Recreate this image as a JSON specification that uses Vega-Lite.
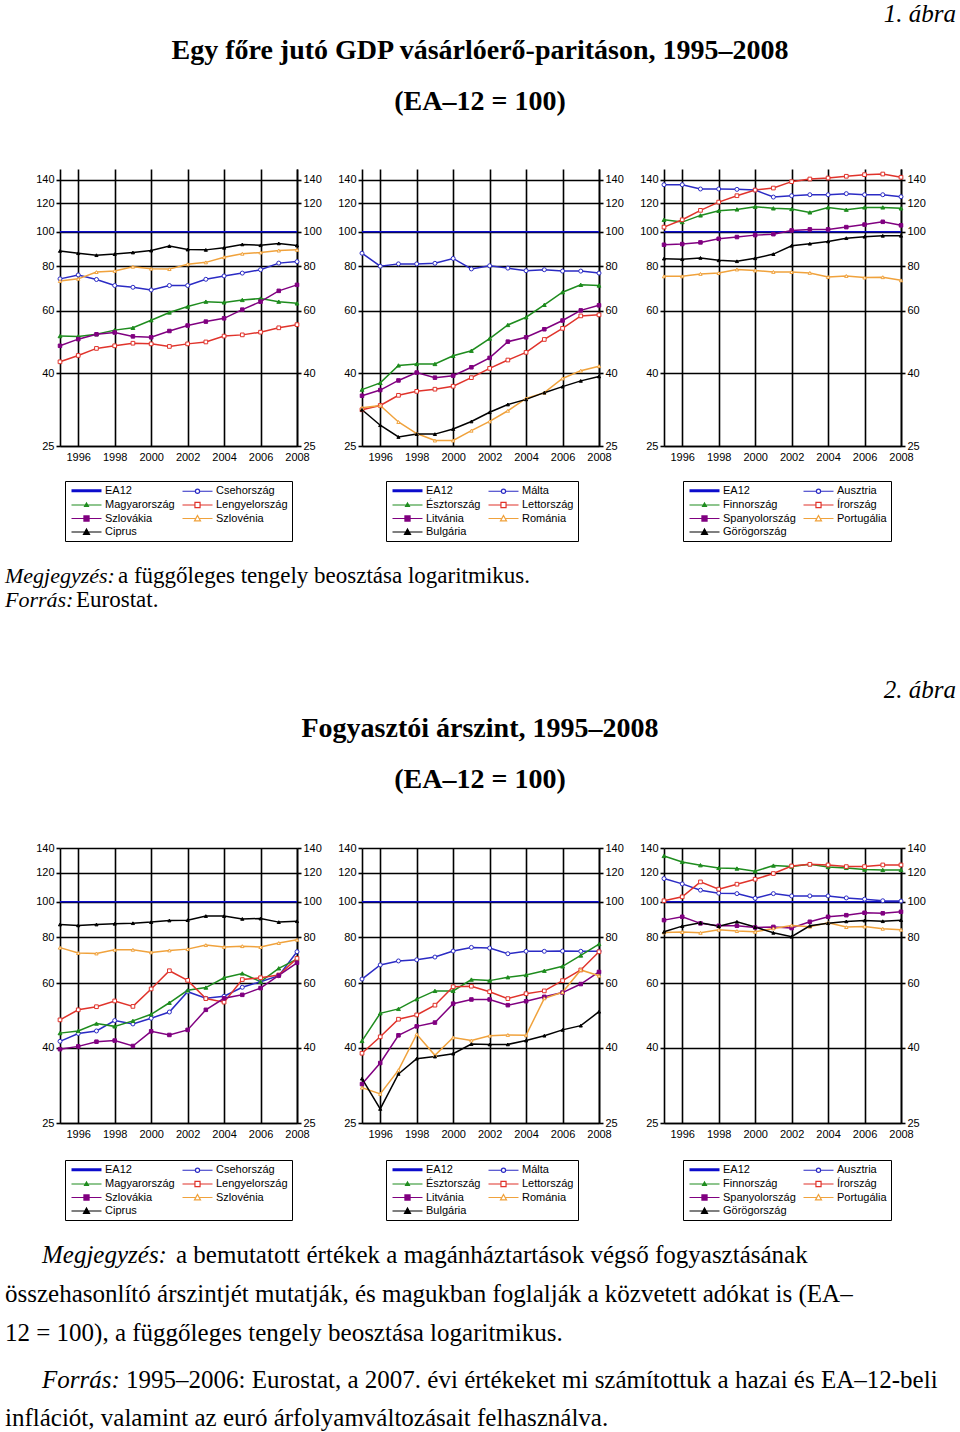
{
"$schema": "https://vega.github.io/schema/vega-lite/v6.json",
"background": "white",
"padding": {"left": 5, "top": 0, "right": 0, "bottom": 0},
"autosize": {"type": "pad"},
"config": {
  "view": {"stroke": null},
  "font": "Liberation Sans",
  "axis": {"labelFont": "Liberation Sans", "labelFontSize": 11, "labelColor": "black", "labelOverlap": false, "labelFlush": false, "domainColor": "black", "domainWidth": 1.6, "tickColor": "black", "tickWidth": 1.6, "gridColor": "black", "gridOpacity": 1, "gridWidth": 1.6},
  "legend": {"orient": "none", "direction": "horizontal", "columns": 2, "padding": 4, "strokeColor": "black", "symbolSize": 900, "labelFont": "Liberation Sans", "labelFontSize": 11, "labelColor": "black", "labelOffset": 3, "columnPadding": 5, "rowPadding": 1.5}
},
"resolve": {"scale": {"color": "independent", "stroke": "independent", "fill": "independent", "shape": "independent", "size": "independent"}, "legend": {"color": "independent"}},
"datasets": {
"gdp": [
{"country":"EA12","year":1995,"value":100},{"country":"EA12","year":1996,"value":100},{"country":"EA12","year":1997,"value":100},{"country":"EA12","year":1998,"value":100},{"country":"EA12","year":1999,"value":100},{"country":"EA12","year":2000,"value":100},{"country":"EA12","year":2001,"value":100},{"country":"EA12","year":2002,"value":100},{"country":"EA12","year":2003,"value":100},{"country":"EA12","year":2004,"value":100},{"country":"EA12","year":2005,"value":100},{"country":"EA12","year":2006,"value":100},{"country":"EA12","year":2007,"value":100},{"country":"EA12","year":2008,"value":100},
{"country":"Csehország","year":1995,"value":73.7},{"country":"Csehország","year":1996,"value":75.6},{"country":"Csehország","year":1997,"value":73.4},{"country":"Csehország","year":1998,"value":70.6},{"country":"Csehország","year":1999,"value":69.8},{"country":"Csehország","year":2000,"value":68.6},{"country":"Csehország","year":2001,"value":70.6},{"country":"Csehország","year":2002,"value":70.6},{"country":"Csehország","year":2003,"value":73.5},{"country":"Csehország","year":2004,"value":75.1},{"country":"Csehország","year":2005,"value":76.5},{"country":"Csehország","year":2006,"value":78.2},{"country":"Csehország","year":2007,"value":81.6},{"country":"Csehország","year":2008,"value":82.4},
{"country":"Magyarország","year":1995,"value":50.9},{"country":"Magyarország","year":1996,"value":50.8},{"country":"Magyarország","year":1997,"value":51.5},{"country":"Magyarország","year":1998,"value":52.9},{"country":"Magyarország","year":1999,"value":53.7},{"country":"Magyarország","year":2000,"value":56.4},{"country":"Magyarország","year":2001,"value":59.3},{"country":"Magyarország","year":2002,"value":61.6},{"country":"Magyarország","year":2003,"value":63.6},{"country":"Magyarország","year":2004,"value":63.3},{"country":"Magyarország","year":2005,"value":64.3},{"country":"Magyarország","year":2006,"value":64.9},{"country":"Magyarország","year":2007,"value":63.6},{"country":"Magyarország","year":2008,"value":62.9},
{"country":"Lengyelország","year":1995,"value":43.1},{"country":"Lengyelország","year":1996,"value":44.9},{"country":"Lengyelország","year":1997,"value":47.0},{"country":"Lengyelország","year":1998,"value":47.8},{"country":"Lengyelország","year":1999,"value":48.6},{"country":"Lengyelország","year":2000,"value":48.4},{"country":"Lengyelország","year":2001,"value":47.6},{"country":"Lengyelország","year":2002,"value":48.4},{"country":"Lengyelország","year":2003,"value":49.0},{"country":"Lengyelország","year":2004,"value":50.9},{"country":"Lengyelország","year":2005,"value":51.3},{"country":"Lengyelország","year":2006,"value":52.2},{"country":"Lengyelország","year":2007,"value":53.7},{"country":"Lengyelország","year":2008,"value":54.8},
{"country":"Szlovákia","year":1995,"value":47.8},{"country":"Szlovákia","year":1996,"value":49.9},{"country":"Szlovákia","year":1997,"value":51.5},{"country":"Szlovákia","year":1998,"value":52.1},{"country":"Szlovákia","year":1999,"value":50.8},{"country":"Szlovákia","year":2000,"value":50.5},{"country":"Szlovákia","year":2001,"value":52.6},{"country":"Szlovákia","year":2002,"value":54.5},{"country":"Szlovákia","year":2003,"value":55.9},{"country":"Szlovákia","year":2004,"value":57.1},{"country":"Szlovákia","year":2005,"value":60.4},{"country":"Szlovákia","year":2006,"value":63.6},{"country":"Szlovákia","year":2007,"value":68.2},{"country":"Szlovákia","year":2008,"value":70.9},
{"country":"Szlovénia","year":1995,"value":72.7},{"country":"Szlovénia","year":1996,"value":73.7},{"country":"Szlovénia","year":1997,"value":77.0},{"country":"Szlovénia","year":1998,"value":77.6},{"country":"Szlovénia","year":1999,"value":79.7},{"country":"Szlovénia","year":2000,"value":78.7},{"country":"Szlovénia","year":2001,"value":78.5},{"country":"Szlovénia","year":2002,"value":81.0},{"country":"Szlovénia","year":2003,"value":82.0},{"country":"Szlovénia","year":2004,"value":84.8},{"country":"Szlovénia","year":2005,"value":86.7},{"country":"Szlovénia","year":2006,"value":87.4},{"country":"Szlovénia","year":2007,"value":88.5},{"country":"Szlovénia","year":2008,"value":88.9},
{"country":"Ciprus","year":1995,"value":88.3},{"country":"Ciprus","year":1996,"value":87.0},{"country":"Ciprus","year":1997,"value":85.9},{"country":"Ciprus","year":1998,"value":86.5},{"country":"Ciprus","year":1999,"value":87.4},{"country":"Ciprus","year":2000,"value":88.5},{"country":"Ciprus","year":2001,"value":91.1},{"country":"Ciprus","year":2002,"value":89.1},{"country":"Ciprus","year":2003,"value":88.9},{"country":"Ciprus","year":2004,"value":90.1},{"country":"Ciprus","year":2005,"value":92.1},{"country":"Ciprus","year":2006,"value":91.6},{"country":"Ciprus","year":2007,"value":92.7},{"country":"Ciprus","year":2008,"value":91.5},
{"country":"Málta","year":1995,"value":87.0},{"country":"Málta","year":1996,"value":80.0},{"country":"Málta","year":1997,"value":81.2},{"country":"Málta","year":1998,"value":81.2},{"country":"Málta","year":1999,"value":81.5},{"country":"Málta","year":2000,"value":84.1},{"country":"Málta","year":2001,"value":78.6},{"country":"Málta","year":2002,"value":80.2},{"country":"Málta","year":2003,"value":79.0},{"country":"Málta","year":2004,"value":77.7},{"country":"Málta","year":2005,"value":78.2},{"country":"Málta","year":2006,"value":77.5},{"country":"Málta","year":2007,"value":77.5},{"country":"Málta","year":2008,"value":76.5},
{"country":"Észtország","year":1995,"value":36.0},{"country":"Észtország","year":1996,"value":37.6},{"country":"Észtország","year":1997,"value":42.1},{"country":"Észtország","year":1998,"value":42.5},{"country":"Észtország","year":1999,"value":42.5},{"country":"Észtország","year":2000,"value":44.8},{"country":"Észtország","year":2001,"value":46.3},{"country":"Észtország","year":2002,"value":50.1},{"country":"Észtország","year":2003,"value":54.7},{"country":"Észtország","year":2004,"value":57.5},{"country":"Észtország","year":2005,"value":62.3},{"country":"Észtország","year":2006,"value":67.6},{"country":"Észtország","year":2007,"value":70.9},{"country":"Észtország","year":2008,"value":70.6},
{"country":"Lettország","year":1995,"value":31.6},{"country":"Lettország","year":1996,"value":32.5},{"country":"Lettország","year":1997,"value":34.7},{"country":"Lettország","year":1998,"value":35.6},{"country":"Lettország","year":1999,"value":36.1},{"country":"Lettország","year":2000,"value":36.8},{"country":"Lettország","year":2001,"value":38.9},{"country":"Lettország","year":2002,"value":41.3},{"country":"Lettország","year":2003,"value":43.6},{"country":"Lettország","year":2004,"value":45.8},{"country":"Lettország","year":2005,"value":49.8},{"country":"Lettország","year":2006,"value":53.5},{"country":"Lettország","year":2007,"value":58.0},{"country":"Lettország","year":2008,"value":58.4},
{"country":"Litvánia","year":1995,"value":34.6},{"country":"Litvánia","year":1996,"value":35.9},{"country":"Litvánia","year":1997,"value":38.2},{"country":"Litvánia","year":1998,"value":40.2},{"country":"Litvánia","year":1999,"value":38.9},{"country":"Litvánia","year":2000,"value":39.4},{"country":"Litvánia","year":2001,"value":41.6},{"country":"Litvánia","year":2002,"value":44.2},{"country":"Litvánia","year":2003,"value":49.1},{"country":"Litvánia","year":2004,"value":50.5},{"country":"Litvánia","year":2005,"value":53.2},{"country":"Litvánia","year":2006,"value":56.3},{"country":"Litvánia","year":2007,"value":60.1},{"country":"Litvánia","year":2008,"value":62.1},
{"country":"Románia","year":1995,"value":32.0},{"country":"Románia","year":1996,"value":32.5},{"country":"Románia","year":1997,"value":29.2},{"country":"Románia","year":1998,"value":27.1},{"country":"Románia","year":1999,"value":25.9},{"country":"Románia","year":2000,"value":25.9},{"country":"Románia","year":2001,"value":27.6},{"country":"Románia","year":2002,"value":29.3},{"country":"Románia","year":2003,"value":31.4},{"country":"Románia","year":2004,"value":34.0},{"country":"Románia","year":2005,"value":35.3},{"country":"Románia","year":2006,"value":38.7},{"country":"Románia","year":2007,"value":40.7},{"country":"Románia","year":2008,"value":41.9},
{"country":"Bulgária","year":1995,"value":31.6},{"country":"Bulgária","year":1996,"value":28.6},{"country":"Bulgária","year":1997,"value":26.5},{"country":"Bulgária","year":1998,"value":27.0},{"country":"Bulgária","year":1999,"value":27.0},{"country":"Bulgária","year":2000,"value":27.9},{"country":"Bulgária","year":2001,"value":29.3},{"country":"Bulgária","year":2002,"value":31.1},{"country":"Bulgária","year":2003,"value":32.7},{"country":"Bulgária","year":2004,"value":33.8},{"country":"Bulgária","year":2005,"value":35.3},{"country":"Bulgária","year":2006,"value":36.7},{"country":"Bulgária","year":2007,"value":38.1},{"country":"Bulgária","year":2008,"value":39.2},
{"country":"Ausztria","year":1995,"value":135.5},{"country":"Ausztria","year":1996,"value":135.5},{"country":"Ausztria","year":1997,"value":131.8},{"country":"Ausztria","year":1998,"value":131.8},{"country":"Ausztria","year":1999,"value":131.5},{"country":"Ausztria","year":2000,"value":130.9},{"country":"Ausztria","year":2001,"value":125.1},{"country":"Ausztria","year":2002,"value":126.2},{"country":"Ausztria","year":2003,"value":127.0},{"country":"Ausztria","year":2004,"value":127.0},{"country":"Ausztria","year":2005,"value":127.9},{"country":"Ausztria","year":2006,"value":127.0},{"country":"Ausztria","year":2007,"value":127.0},{"country":"Ausztria","year":2008,"value":125.4},
{"country":"Finnország","year":1995,"value":108.0},{"country":"Finnország","year":1996,"value":106.4},{"country":"Finnország","year":1997,"value":111.1},{"country":"Finnország","year":1998,"value":114.5},{"country":"Finnország","year":1999,"value":115.5},{"country":"Finnország","year":2000,"value":117.5},{"country":"Finnország","year":2001,"value":116.3},{"country":"Finnország","year":2002,"value":115.8},{"country":"Finnország","year":2003,"value":113.3},{"country":"Finnország","year":2004,"value":117.0},{"country":"Finnország","year":2005,"value":115.3},{"country":"Finnország","year":2006,"value":117.0},{"country":"Finnország","year":2007,"value":117.0},{"country":"Finnország","year":2008,"value":116.3},
{"country":"Írország","year":1995,"value":103.0},{"country":"Írország","year":1996,"value":108.0},{"country":"Írország","year":1997,"value":114.8},{"country":"Írország","year":1998,"value":121.1},{"country":"Írország","year":1999,"value":126.2},{"country":"Írország","year":2000,"value":130.9},{"country":"Írország","year":2001,"value":132.6},{"country":"Írország","year":2002,"value":138.2},{"country":"Írország","year":2003,"value":140.6},{"country":"Írország","year":2004,"value":141.5},{"country":"Írország","year":2005,"value":143.1},{"country":"Írország","year":2006,"value":144.6},{"country":"Írország","year":2007,"value":145.2},{"country":"Írország","year":2008,"value":142.2},
{"country":"Spanyolország","year":1995,"value":91.9},{"country":"Spanyolország","year":1996,"value":92.3},{"country":"Spanyolország","year":1997,"value":93.3},{"country":"Spanyolország","year":1998,"value":95.5},{"country":"Spanyolország","year":1999,"value":96.6},{"country":"Spanyolország","year":2000,"value":97.8},{"country":"Spanyolország","year":2001,"value":98.4},{"country":"Spanyolország","year":2002,"value":100.8},{"country":"Spanyolország","year":2003,"value":101.5},{"country":"Spanyolország","year":2004,"value":101.5},{"country":"Spanyolország","year":2005,"value":103.0},{"country":"Spanyolország","year":2006,"value":104.7},{"country":"Spanyolország","year":2007,"value":106.6},{"country":"Spanyolország","year":2008,"value":104.2},
{"country":"Portugália","year":1995,"value":74.9},{"country":"Portugália","year":1996,"value":74.9},{"country":"Portugália","year":1997,"value":76.1},{"country":"Portugália","year":1998,"value":76.5},{"country":"Portugália","year":1999,"value":78.3},{"country":"Portugália","year":2000,"value":77.8},{"country":"Portugália","year":2001,"value":77.1},{"country":"Portugália","year":2002,"value":77.0},{"country":"Portugália","year":2003,"value":76.6},{"country":"Portugália","year":2004,"value":74.6},{"country":"Portugália","year":2005,"value":75.1},{"country":"Portugália","year":2006,"value":74.3},{"country":"Portugália","year":2007,"value":74.5},{"country":"Portugália","year":2008,"value":73.0},
{"country":"Görögország","year":1995,"value":84.0},{"country":"Görögország","year":1996,"value":83.7},{"country":"Görögország","year":1997,"value":84.4},{"country":"Görögország","year":1998,"value":83.1},{"country":"Görögország","year":1999,"value":82.6},{"country":"Görögország","year":2000,"value":84.2},{"country":"Görögország","year":2001,"value":86.5},{"country":"Görögország","year":2002,"value":91.3},{"country":"Görögország","year":2003,"value":92.5},{"country":"Görögország","year":2004,"value":93.9},{"country":"Görögország","year":2005,"value":95.9},{"country":"Görögország","year":2006,"value":96.8},{"country":"Görögország","year":2007,"value":97.4},{"country":"Görögország","year":2008,"value":97.4}
],
"cpi": [
{"country":"EA12","year":1995,"value":100},{"country":"EA12","year":1996,"value":100},{"country":"EA12","year":1997,"value":100},{"country":"EA12","year":1998,"value":100},{"country":"EA12","year":1999,"value":100},{"country":"EA12","year":2000,"value":100},{"country":"EA12","year":2001,"value":100},{"country":"EA12","year":2002,"value":100},{"country":"EA12","year":2003,"value":100},{"country":"EA12","year":2004,"value":100},{"country":"EA12","year":2005,"value":100},{"country":"EA12","year":2006,"value":100},{"country":"EA12","year":2007,"value":100},{"country":"EA12","year":2008,"value":100},
{"country":"Csehország","year":1995,"value":41.7},{"country":"Csehország","year":1996,"value":43.8},{"country":"Csehország","year":1997,"value":44.5},{"country":"Csehország","year":1998,"value":47.5},{"country":"Csehország","year":1999,"value":46.5},{"country":"Csehország","year":2000,"value":48.2},{"country":"Csehország","year":2001,"value":50.1},{"country":"Csehország","year":2002,"value":56.9},{"country":"Csehország","year":2003,"value":54.6},{"country":"Csehország","year":2004,"value":55.3},{"country":"Csehország","year":2005,"value":58.5},{"country":"Csehország","year":2006,"value":60.6},{"country":"Csehország","year":2007,"value":62.9},{"country":"Csehország","year":2008,"value":73.1},
{"country":"Magyarország","year":1995,"value":43.9},{"country":"Magyarország","year":1996,"value":44.5},{"country":"Magyarország","year":1997,"value":46.6},{"country":"Magyarország","year":1998,"value":45.8},{"country":"Magyarország","year":1999,"value":47.4},{"country":"Magyarország","year":2000,"value":49.4},{"country":"Magyarország","year":2001,"value":53.1},{"country":"Magyarország","year":2002,"value":57.4},{"country":"Magyarország","year":2003,"value":58.4},{"country":"Magyarország","year":2004,"value":62.1},{"country":"Magyarország","year":2005,"value":63.8},{"country":"Magyarország","year":2006,"value":60.6},{"country":"Magyarország","year":2007,"value":65.9},{"country":"Magyarország","year":2008,"value":69.8},
{"country":"Lengyelország","year":1995,"value":47.7},{"country":"Lengyelország","year":1996,"value":50.8},{"country":"Lengyelország","year":1997,"value":51.8},{"country":"Lengyelország","year":1998,"value":53.7},{"country":"Lengyelország","year":1999,"value":51.9},{"country":"Lengyelország","year":2000,"value":57.9},{"country":"Lengyelország","year":2001,"value":64.9},{"country":"Lengyelország","year":2002,"value":61.1},{"country":"Lengyelország","year":2003,"value":54.5},{"country":"Lengyelország","year":2004,"value":53.3},{"country":"Lengyelország","year":2005,"value":61.4},{"country":"Lengyelország","year":2006,"value":62.1},{"country":"Lengyelország","year":2007,"value":63.2},{"country":"Lengyelország","year":2008,"value":70.1},
{"country":"Szlovákia","year":1995,"value":39.7},{"country":"Szlovákia","year":1996,"value":40.4},{"country":"Szlovákia","year":1997,"value":41.6},{"country":"Szlovákia","year":1998,"value":41.9},{"country":"Szlovákia","year":1999,"value":40.5},{"country":"Szlovákia","year":2000,"value":44.4},{"country":"Szlovákia","year":2001,"value":43.4},{"country":"Szlovákia","year":2002,"value":44.8},{"country":"Szlovákia","year":2003,"value":50.8},{"country":"Szlovákia","year":2004,"value":54.6},{"country":"Szlovákia","year":2005,"value":55.8},{"country":"Szlovákia","year":2006,"value":58.2},{"country":"Szlovákia","year":2007,"value":63.0},{"country":"Szlovákia","year":2008,"value":68.2},
{"country":"Szlovénia","year":1995,"value":75.0},{"country":"Szlovénia","year":1996,"value":72.5},{"country":"Szlovénia","year":1997,"value":72.3},{"country":"Szlovénia","year":1998,"value":74.0},{"country":"Szlovénia","year":1999,"value":74.0},{"country":"Szlovénia","year":2000,"value":72.8},{"country":"Szlovénia","year":2001,"value":73.7},{"country":"Szlovénia","year":2002,"value":74.3},{"country":"Szlovénia","year":2003,"value":76.2},{"country":"Szlovénia","year":2004,"value":75.3},{"country":"Szlovénia","year":2005,"value":75.7},{"country":"Szlovénia","year":2006,"value":75.3},{"country":"Szlovénia","year":2007,"value":77.2},{"country":"Szlovénia","year":2008,"value":78.8},
{"country":"Ciprus","year":1995,"value":86.7},{"country":"Ciprus","year":1996,"value":86.2},{"country":"Ciprus","year":1997,"value":86.7},{"country":"Ciprus","year":1998,"value":87.1},{"country":"Ciprus","year":1999,"value":87.4},{"country":"Ciprus","year":2000,"value":88.0},{"country":"Ciprus","year":2001,"value":88.9},{"country":"Ciprus","year":2002,"value":89.1},{"country":"Ciprus","year":2003,"value":91.4},{"country":"Ciprus","year":2004,"value":91.4},{"country":"Ciprus","year":2005,"value":89.8},{"country":"Ciprus","year":2006,"value":90.0},{"country":"Ciprus","year":2007,"value":88.0},{"country":"Ciprus","year":2008,"value":88.5},
{"country":"Málta","year":1995,"value":61.6},{"country":"Málta","year":1996,"value":67.3},{"country":"Málta","year":1997,"value":69.0},{"country":"Málta","year":1998,"value":69.5},{"country":"Málta","year":1999,"value":70.7},{"country":"Málta","year":2000,"value":73.4},{"country":"Málta","year":2001,"value":75.1},{"country":"Málta","year":2002,"value":74.8},{"country":"Málta","year":2003,"value":72.2},{"country":"Málta","year":2004,"value":73.3},{"country":"Málta","year":2005,"value":73.3},{"country":"Málta","year":2006,"value":73.4},{"country":"Málta","year":2007,"value":73.3},{"country":"Málta","year":2008,"value":73.3},
{"country":"Észtország","year":1995,"value":41.8},{"country":"Észtország","year":1996,"value":49.7},{"country":"Észtország","year":1997,"value":51.1},{"country":"Észtország","year":1998,"value":54.3},{"country":"Észtország","year":1999,"value":57.2},{"country":"Észtország","year":2000,"value":57.2},{"country":"Észtország","year":2001,"value":61.4},{"country":"Észtország","year":2002,"value":61.0},{"country":"Észtország","year":2003,"value":62.3},{"country":"Észtország","year":2004,"value":63.2},{"country":"Észtország","year":2005,"value":64.9},{"country":"Észtország","year":2006,"value":66.7},{"country":"Észtország","year":2007,"value":71.4},{"country":"Észtország","year":2008,"value":76.7},
{"country":"Lettország","year":1995,"value":38.7},{"country":"Lettország","year":1996,"value":42.9},{"country":"Lettország","year":1997,"value":47.9},{"country":"Lettország","year":1998,"value":49.2},{"country":"Lettország","year":1999,"value":52.3},{"country":"Lettország","year":2000,"value":58.7},{"country":"Lettország","year":2001,"value":58.9},{"country":"Lettország","year":2002,"value":56.9},{"country":"Lettország","year":2003,"value":54.5},{"country":"Lettország","year":2004,"value":56.2},{"country":"Lettország","year":2005,"value":57.2},{"country":"Lettország","year":2006,"value":61.0},{"country":"Lettország","year":2007,"value":65.2},{"country":"Lettország","year":2008,"value":73.1},
{"country":"Litvánia","year":1995,"value":31.9},{"country":"Litvánia","year":1996,"value":36.4},{"country":"Litvánia","year":1997,"value":43.3},{"country":"Litvánia","year":1998,"value":45.8},{"country":"Litvánia","year":1999,"value":46.9},{"country":"Litvánia","year":2000,"value":52.8},{"country":"Litvánia","year":2001,"value":54.2},{"country":"Litvánia","year":2002,"value":54.2},{"country":"Litvánia","year":2003,"value":52.3},{"country":"Litvánia","year":2004,"value":53.6},{"country":"Litvánia","year":2005,"value":55.1},{"country":"Litvánia","year":2006,"value":56.6},{"country":"Litvánia","year":2007,"value":59.7},{"country":"Litvánia","year":2008,"value":64.4},
{"country":"Románia","year":1995,"value":31.2},{"country":"Románia","year":1996,"value":30.0},{"country":"Románia","year":1997,"value":34.8},{"country":"Románia","year":1998,"value":43.6},{"country":"Románia","year":1999,"value":38.2},{"country":"Románia","year":2000,"value":42.7},{"country":"Románia","year":2001,"value":41.9},{"country":"Románia","year":2002,"value":43.2},{"country":"Románia","year":2003,"value":43.4},{"country":"Románia","year":2004,"value":43.3},{"country":"Románia","year":2005,"value":54.6},{"country":"Románia","year":2006,"value":56.7},{"country":"Románia","year":2007,"value":65.2},{"country":"Románia","year":2008,"value":62.9},
{"country":"Bulgária","year":1995,"value":33.0},{"country":"Bulgária","year":1996,"value":27.3},{"country":"Bulgária","year":1997,"value":34.0},{"country":"Bulgária","year":1998,"value":37.4},{"country":"Bulgária","year":1999,"value":37.9},{"country":"Bulgária","year":2000,"value":38.6},{"country":"Bulgária","year":2001,"value":41.0},{"country":"Bulgária","year":2002,"value":40.9},{"country":"Bulgária","year":2003,"value":40.9},{"country":"Bulgária","year":2004,"value":41.9},{"country":"Bulgária","year":2005,"value":43.2},{"country":"Bulgária","year":2006,"value":44.8},{"country":"Bulgária","year":2007,"value":46.0},{"country":"Bulgária","year":2008,"value":50.2},
{"country":"Ausztria","year":1995,"value":115.6},{"country":"Ausztria","year":1996,"value":111.8},{"country":"Ausztria","year":1997,"value":107.5},{"country":"Ausztria","year":1998,"value":105.5},{"country":"Ausztria","year":1999,"value":105.2},{"country":"Ausztria","year":2000,"value":102.2},{"country":"Ausztria","year":2001,"value":105.2},{"country":"Ausztria","year":2002,"value":103.7},{"country":"Ausztria","year":2003,"value":103.7},{"country":"Ausztria","year":2004,"value":103.7},{"country":"Ausztria","year":2005,"value":102.4},{"country":"Ausztria","year":2006,"value":101.6},{"country":"Ausztria","year":2007,"value":100.6},{"country":"Ausztria","year":2008,"value":100.4},
{"country":"Finnország","year":1995,"value":133.2},{"country":"Finnország","year":1996,"value":128.3},{"country":"Finnország","year":1997,"value":125.7},{"country":"Finnország","year":1998,"value":123.6},{"country":"Finnország","year":1999,"value":123.1},{"country":"Finnország","year":2000,"value":121.0},{"country":"Finnország","year":2001,"value":125.4},{"country":"Finnország","year":2002,"value":124.6},{"country":"Finnország","year":2003,"value":126.4},{"country":"Finnország","year":2004,"value":124.3},{"country":"Finnország","year":2005,"value":123.6},{"country":"Finnország","year":2006,"value":122.3},{"country":"Finnország","year":2007,"value":122.0},{"country":"Finnország","year":2008,"value":122.0},
{"country":"Írország","year":1995,"value":100.6},{"country":"Írország","year":1996,"value":103.1},{"country":"Írország","year":1997,"value":113.2},{"country":"Írország","year":1998,"value":108.2},{"country":"Írország","year":1999,"value":111.6},{"country":"Írország","year":2000,"value":115.1},{"country":"Írország","year":2001,"value":119.3},{"country":"Írország","year":2002,"value":125.1},{"country":"Írország","year":2003,"value":126.4},{"country":"Írország","year":2004,"value":125.9},{"country":"Írország","year":2005,"value":124.6},{"country":"Írország","year":2006,"value":124.6},{"country":"Írország","year":2007,"value":125.9},{"country":"Írország","year":2008,"value":125.9},
{"country":"Spanyolország","year":1995,"value":89.1},{"country":"Spanyolország","year":1996,"value":91.0},{"country":"Spanyolország","year":1997,"value":87.3},{"country":"Spanyolország","year":1998,"value":86.0},{"country":"Spanyolország","year":1999,"value":86.0},{"country":"Spanyolország","year":2000,"value":85.1},{"country":"Spanyolország","year":2001,"value":85.4},{"country":"Spanyolország","year":2002,"value":84.8},{"country":"Spanyolország","year":2003,"value":88.2},{"country":"Spanyolország","year":2004,"value":91.0},{"country":"Spanyolország","year":2005,"value":91.9},{"country":"Spanyolország","year":2006,"value":93.3},{"country":"Spanyolország","year":2007,"value":93.0},{"country":"Spanyolország","year":2008,"value":93.9},
{"country":"Portugália","year":1995,"value":82.5},{"country":"Portugália","year":1996,"value":82.7},{"country":"Portugália","year":1997,"value":82.3},{"country":"Portugália","year":1998,"value":83.9},{"country":"Portugália","year":1999,"value":83.2},{"country":"Portugália","year":2000,"value":82.8},{"country":"Portugália","year":2001,"value":84.6},{"country":"Portugália","year":2002,"value":86.2},{"country":"Portugália","year":2003,"value":85.5},{"country":"Portugália","year":2004,"value":87.6},{"country":"Portugália","year":2005,"value":85.3},{"country":"Portugália","year":2006,"value":85.6},{"country":"Portugália","year":2007,"value":84.4},{"country":"Portugália","year":2008,"value":83.9},
{"country":"Görögország","year":1995,"value":82.8},{"country":"Görögország","year":1996,"value":85.8},{"country":"Görögország","year":1997,"value":87.6},{"country":"Görögország","year":1998,"value":85.8},{"country":"Görögország","year":1999,"value":88.2},{"country":"Görögország","year":2000,"value":85.3},{"country":"Görögország","year":2001,"value":82.3},{"country":"Görögország","year":2002,"value":80.3},{"country":"Görögország","year":2003,"value":86.0},{"country":"Görögország","year":2004,"value":87.4},{"country":"Görögország","year":2005,"value":88.4},{"country":"Görögország","year":2006,"value":88.9},{"country":"Görögország","year":2007,"value":88.5},{"country":"Görögország","year":2008,"value":89.1}
]
},
"columns": 3,
"spacing": {"row": 0, "column": 65},
"bounds": "flush",
"align": "each",
"concat": [
{"width": 237, "height": 169, "data": {"values": []}, "mark": "text"},
{"width": 237, "height": 169,
 "layer": [
  {"data": {"values": [{"label": "1. ábra"}]}, "mark": {"type": "text", "x": 594, "y": 22, "align": "right", "baseline": "alphabetic", "font": "Liberation Serif", "fontStyle": "italic", "fontSize": 25, "color": "black"}, "encoding": {"text": {"field": "label"}}},
  {"data": {"values": [{"label": "Egy főre jutó GDP vásárlóerő-paritáson, 1995–2008"}]}, "mark": {"type": "text", "x": 118, "y": 59, "align": "center", "baseline": "alphabetic", "font": "Liberation Serif", "fontWeight": "bold", "fontSize": 28, "color": "black"}, "encoding": {"text": {"field": "label"}}},
  {"data": {"values": [{"label": "(EA–12 = 100)"}]}, "mark": {"type": "text", "x": 118, "y": 110, "align": "center", "baseline": "alphabetic", "font": "Liberation Serif", "fontWeight": "bold", "fontSize": 28, "color": "black"}, "encoding": {"text": {"field": "label"}}}
 ]},
{"width": 237, "height": 169, "data": {"values": []}, "mark": "text"},

{"width": 237, "height": 277, "data": {"name": "gdp"},
 "transform": [{"filter": {"field": "country", "oneOf": ["EA12","Csehország","Magyarország","Lengyelország","Szlovákia","Szlovénia","Ciprus"]}}],
 "encoding": {"x": {"field": "year", "type": "quantitative", "scale": {"domain": [1995, 2008], "nice": false, "zero": false}, "axis": {"values": [1996,1998,2000,2002,2004,2006,2008], "format": "d", "grid": true, "ticks": false, "labelPadding": 5, "title": null}}},
 "layer": [
  {"mark": {"type": "line", "strokeWidth": 1.5},
   "encoding": {
    "y": {"field": "value", "type": "quantitative", "scale": {"type": "log", "domain": [25, 150], "nice": false}, "axis": {"orient": "left", "values": [25,40,60,80,100,120,140], "grid": true, "tickSize": 4, "labelPadding": 2, "title": null}},
    "color": {"field": "country", "type": "nominal", "scale": {"domain": ["EA12","Csehország","Magyarország","Lengyelország","Szlovákia","Szlovénia","Ciprus"], "range": ["#0c0ccc","#2b2bc4","#1e8c1e","#e0332b","#800080","#f0a23c","#000000"]},
      "legend": {"orient": "none", "legendX": 5, "legendY": 312, "title": null, "encode": {"symbols": {"update": {"x": {"value": 17.5}, "shape": {"signal": "['M-1,0H1','M-1,0H-0.14M0.14,0H1M0.14,0A0.14,0.14,0,1,1,-0.14,0A0.14,0.14,0,1,1,0.14,0Z','M-1,0H1M0,-0.13L0.13,0.1L-0.13,0.1Z','M-1,0H-0.17M0.17,0H1M-0.17,-0.17H0.17V0.17H-0.17Z','M-1,0H1M-0.17,-0.17H0.17V0.17H-0.17Z','M-1,0H-0.11M0.11,0H1M0,-0.2L0.2,0.16L-0.2,0.16Z','M-1,0H1M0,-0.2L0.2,0.16L-0.2,0.16Z'][datum.index]"}, "fill": {"signal": "['transparent','white','#1e8c1e','white','#800080','white','#000000'][datum.index]"}, "strokeWidth": {"signal": "datum.index === 0 ? 3 : 1.2"}}}, "labels": {"update": {"x": {"value": 36}}}}}},
    "strokeWidth": {"condition": {"test": "datum.country === 'EA12'", "value": 3}, "value": 1.5}
   }},
  {"transform": [{"filter": "datum.country !== 'EA12'"}],
   "mark": {"type": "point", "opacity": 1, "strokeWidth": 1},
   "encoding": {
    "y": {"field": "value", "type": "quantitative", "scale": {"type": "log", "domain": [25, 150], "nice": false}, "axis": {"orient": "right", "values": [25,40,60,80,100,120,140], "grid": false, "tickSize": 4, "labelPadding": 2, "title": null}},
    "shape": {"field": "country", "type": "nominal", "scale": {"domain": ["Csehország","Magyarország","Lengyelország","Szlovákia","Szlovénia","Ciprus"], "range": ["circle","triangle-up","square","square","triangle-up","triangle-up"]}, "legend": null},
    "stroke": {"field": "country", "type": "nominal", "scale": {"domain": ["Csehország","Magyarország","Lengyelország","Szlovákia","Szlovénia","Ciprus"], "range": ["#2b2bc4","#1e8c1e","#e0332b","#800080","#f0a23c","#000000"]}, "legend": null},
    "fill": {"field": "country", "type": "nominal", "scale": {"domain": ["Csehország","Magyarország","Lengyelország","Szlovákia","Szlovénia","Ciprus"], "range": ["white","#1e8c1e","white","#800080","white","#000000"]}, "legend": null},
    "size": {"field": "country", "type": "ordinal", "scale": {"domain": ["Csehország","Magyarország","Lengyelország","Szlovákia","Szlovénia","Ciprus"], "range": [16,10,26,28,30,36]}, "legend": null}
   }}
 ],
 "resolve": {"axis": {"y": "independent"}}},

{"width": 237, "height": 277, "data": {"name": "gdp"},
 "transform": [{"filter": {"field": "country", "oneOf": ["EA12","Málta","Észtország","Lettország","Litvánia","Románia","Bulgária"]}}],
 "encoding": {"x": {"field": "year", "type": "quantitative", "scale": {"domain": [1995, 2008], "nice": false, "zero": false}, "axis": {"values": [1996,1998,2000,2002,2004,2006,2008], "format": "d", "grid": true, "ticks": false, "labelPadding": 5, "title": null}}},
 "layer": [
  {"mark": {"type": "line", "strokeWidth": 1.5},
   "encoding": {
    "y": {"field": "value", "type": "quantitative", "scale": {"type": "log", "domain": [25, 150], "nice": false}, "axis": {"orient": "left", "values": [25,40,60,80,100,120,140], "grid": true, "tickSize": 4, "labelPadding": 2, "title": null}},
    "color": {"field": "country", "type": "nominal", "scale": {"domain": ["EA12","Málta","Észtország","Lettország","Litvánia","Románia","Bulgária"], "range": ["#0c0ccc","#2b2bc4","#1e8c1e","#e0332b","#800080","#f0a23c","#000000"]},
      "legend": {"orient": "none", "legendX": 24, "legendY": 312, "title": null, "encode": {"symbols": {"update": {"x": {"value": 17.5}, "shape": {"signal": "['M-1,0H1','M-1,0H-0.14M0.14,0H1M0.14,0A0.14,0.14,0,1,1,-0.14,0A0.14,0.14,0,1,1,0.14,0Z','M-1,0H1M0,-0.13L0.13,0.1L-0.13,0.1Z','M-1,0H-0.17M0.17,0H1M-0.17,-0.17H0.17V0.17H-0.17Z','M-1,0H1M-0.17,-0.17H0.17V0.17H-0.17Z','M-1,0H-0.11M0.11,0H1M0,-0.2L0.2,0.16L-0.2,0.16Z','M-1,0H1M0,-0.2L0.2,0.16L-0.2,0.16Z'][datum.index]"}, "fill": {"signal": "['transparent','white','#1e8c1e','white','#800080','white','#000000'][datum.index]"}, "strokeWidth": {"signal": "datum.index === 0 ? 3 : 1.2"}}}, "labels": {"update": {"x": {"value": 36}}}}}},
    "strokeWidth": {"condition": {"test": "datum.country === 'EA12'", "value": 3}, "value": 1.5}
   }},
  {"transform": [{"filter": "datum.country !== 'EA12'"}],
   "mark": {"type": "point", "opacity": 1, "strokeWidth": 1},
   "encoding": {
    "y": {"field": "value", "type": "quantitative", "scale": {"type": "log", "domain": [25, 150], "nice": false}, "axis": {"orient": "right", "values": [25,40,60,80,100,120,140], "grid": false, "tickSize": 4, "labelPadding": 2, "title": null}},
    "shape": {"field": "country", "type": "nominal", "scale": {"domain": ["Málta","Észtország","Lettország","Litvánia","Románia","Bulgária"], "range": ["circle","triangle-up","square","square","triangle-up","triangle-up"]}, "legend": null},
    "stroke": {"field": "country", "type": "nominal", "scale": {"domain": ["Málta","Észtország","Lettország","Litvánia","Románia","Bulgária"], "range": ["#2b2bc4","#1e8c1e","#e0332b","#800080","#f0a23c","#000000"]}, "legend": null},
    "fill": {"field": "country", "type": "nominal", "scale": {"domain": ["Málta","Észtország","Lettország","Litvánia","Románia","Bulgária"], "range": ["white","#1e8c1e","white","#800080","white","#000000"]}, "legend": null},
    "size": {"field": "country", "type": "ordinal", "scale": {"domain": ["Málta","Észtország","Lettország","Litvánia","Románia","Bulgária"], "range": [16,10,26,28,30,36]}, "legend": null}
   }}
 ],
 "resolve": {"axis": {"y": "independent"}}},

{"width": 237, "height": 277, "data": {"name": "gdp"},
 "transform": [{"filter": {"field": "country", "oneOf": ["EA12","Ausztria","Finnország","Írország","Spanyolország","Portugália","Görögország"]}}],
 "encoding": {"x": {"field": "year", "type": "quantitative", "scale": {"domain": [1995, 2008], "nice": false, "zero": false}, "axis": {"values": [1996,1998,2000,2002,2004,2006,2008], "format": "d", "grid": true, "ticks": false, "labelPadding": 5, "title": null}}},
 "layer": [
  {"mark": {"type": "line", "strokeWidth": 1.5},
   "encoding": {
    "y": {"field": "value", "type": "quantitative", "scale": {"type": "log", "domain": [25, 150], "nice": false}, "axis": {"orient": "left", "values": [25,40,60,80,100,120,140], "grid": true, "tickSize": 4, "labelPadding": 2, "title": null}},
    "color": {"field": "country", "type": "nominal", "scale": {"domain": ["EA12","Ausztria","Finnország","Írország","Spanyolország","Portugália","Görögország"], "range": ["#0c0ccc","#2b2bc4","#1e8c1e","#e0332b","#800080","#f0a23c","#000000"]},
      "legend": {"orient": "none", "legendX": 19, "legendY": 312, "title": null, "encode": {"symbols": {"update": {"x": {"value": 17.5}, "shape": {"signal": "['M-1,0H1','M-1,0H-0.14M0.14,0H1M0.14,0A0.14,0.14,0,1,1,-0.14,0A0.14,0.14,0,1,1,0.14,0Z','M-1,0H1M0,-0.13L0.13,0.1L-0.13,0.1Z','M-1,0H-0.17M0.17,0H1M-0.17,-0.17H0.17V0.17H-0.17Z','M-1,0H1M-0.17,-0.17H0.17V0.17H-0.17Z','M-1,0H-0.11M0.11,0H1M0,-0.2L0.2,0.16L-0.2,0.16Z','M-1,0H1M0,-0.2L0.2,0.16L-0.2,0.16Z'][datum.index]"}, "fill": {"signal": "['transparent','white','#1e8c1e','white','#800080','white','#000000'][datum.index]"}, "strokeWidth": {"signal": "datum.index === 0 ? 3 : 1.2"}}}, "labels": {"update": {"x": {"value": 36}}}}}},
    "strokeWidth": {"condition": {"test": "datum.country === 'EA12'", "value": 3}, "value": 1.5}
   }},
  {"transform": [{"filter": "datum.country !== 'EA12'"}],
   "mark": {"type": "point", "opacity": 1, "strokeWidth": 1},
   "encoding": {
    "y": {"field": "value", "type": "quantitative", "scale": {"type": "log", "domain": [25, 150], "nice": false}, "axis": {"orient": "right", "values": [25,40,60,80,100,120,140], "grid": false, "tickSize": 4, "labelPadding": 2, "title": null}},
    "shape": {"field": "country", "type": "nominal", "scale": {"domain": ["Ausztria","Finnország","Írország","Spanyolország","Portugália","Görögország"], "range": ["circle","triangle-up","square","square","triangle-up","triangle-up"]}, "legend": null},
    "stroke": {"field": "country", "type": "nominal", "scale": {"domain": ["Ausztria","Finnország","Írország","Spanyolország","Portugália","Görögország"], "range": ["#2b2bc4","#1e8c1e","#e0332b","#800080","#f0a23c","#000000"]}, "legend": null},
    "fill": {"field": "country", "type": "nominal", "scale": {"domain": ["Ausztria","Finnország","Írország","Spanyolország","Portugália","Görögország"], "range": ["white","#1e8c1e","white","#800080","white","#000000"]}, "legend": null},
    "size": {"field": "country", "type": "ordinal", "scale": {"domain": ["Ausztria","Finnország","Írország","Spanyolország","Portugália","Görögország"], "range": [16,10,26,28,30,36]}, "legend": null}
   }}
 ],
 "resolve": {"axis": {"y": "independent"}}},

{"width": 237, "height": 402,
 "layer": [
  {"data": {"values": [{"label": "Megjegyzés:"}]}, "mark": {"type": "text", "x": -55, "y": 137, "align": "left", "baseline": "alphabetic", "font": "Liberation Serif", "fontStyle": "italic", "fontSize": 22, "color": "black"}, "encoding": {"text": {"field": "label"}}},
  {"data": {"values": [{"label": "a függőleges tengely beosztása logaritmikus."}]}, "mark": {"type": "text", "x": 58, "y": 137, "align": "left", "baseline": "alphabetic", "font": "Liberation Serif", "fontSize": 23, "color": "black"}, "encoding": {"text": {"field": "label"}}},
  {"data": {"values": [{"label": "Forrás:"}]}, "mark": {"type": "text", "x": -55, "y": 161, "align": "left", "baseline": "alphabetic", "font": "Liberation Serif", "fontStyle": "italic", "fontSize": 22, "color": "black"}, "encoding": {"text": {"field": "label"}}},
  {"data": {"values": [{"label": "Eurostat."}]}, "mark": {"type": "text", "x": 16, "y": 161, "align": "left", "baseline": "alphabetic", "font": "Liberation Serif", "fontSize": 23, "color": "black"}, "encoding": {"text": {"field": "label"}}}
 ]},
{"width": 237, "height": 402,
 "layer": [
  {"data": {"values": [{"label": "2. ábra"}]}, "mark": {"type": "text", "x": 594, "y": 252, "align": "right", "baseline": "alphabetic", "font": "Liberation Serif", "fontStyle": "italic", "fontSize": 25, "color": "black"}, "encoding": {"text": {"field": "label"}}},
  {"data": {"values": [{"label": "Fogyasztói árszint, 1995–2008"}]}, "mark": {"type": "text", "x": 118, "y": 291, "align": "center", "baseline": "alphabetic", "font": "Liberation Serif", "fontWeight": "bold", "fontSize": 28, "color": "black"}, "encoding": {"text": {"field": "label"}}},
  {"data": {"values": [{"label": "(EA–12 = 100)"}]}, "mark": {"type": "text", "x": 118, "y": 342, "align": "center", "baseline": "alphabetic", "font": "Liberation Serif", "fontWeight": "bold", "fontSize": 28, "color": "black"}, "encoding": {"text": {"field": "label"}}}
 ]},
{"width": 237, "height": 402, "data": {"values": []}, "mark": "text"},

{"width": 237, "height": 275, "data": {"name": "cpi"},
 "transform": [{"filter": {"field": "country", "oneOf": ["EA12","Csehország","Magyarország","Lengyelország","Szlovákia","Szlovénia","Ciprus"]}}],
 "encoding": {"x": {"field": "year", "type": "quantitative", "scale": {"domain": [1995, 2008], "nice": false, "zero": false}, "axis": {"values": [1996,1998,2000,2002,2004,2006,2008], "format": "d", "grid": true, "ticks": false, "labelPadding": 5, "title": null}}},
 "layer": [
  {"mark": {"type": "line", "strokeWidth": 1.5},
   "encoding": {
    "y": {"field": "value", "type": "quantitative", "scale": {"type": "log", "domain": [25, 140], "nice": false}, "axis": {"orient": "left", "values": [25,40,60,80,100,120,140], "grid": true, "tickSize": 4, "labelPadding": 2, "title": null}},
    "color": {"field": "country", "type": "nominal", "scale": {"domain": ["EA12","Csehország","Magyarország","Lengyelország","Szlovákia","Szlovénia","Ciprus"], "range": ["#0c0ccc","#2b2bc4","#1e8c1e","#e0332b","#800080","#f0a23c","#000000"]},
      "legend": {"orient": "none", "legendX": 5, "legendY": 312, "title": null, "encode": {"symbols": {"update": {"x": {"value": 17.5}, "shape": {"signal": "['M-1,0H1','M-1,0H-0.14M0.14,0H1M0.14,0A0.14,0.14,0,1,1,-0.14,0A0.14,0.14,0,1,1,0.14,0Z','M-1,0H1M0,-0.13L0.13,0.1L-0.13,0.1Z','M-1,0H-0.17M0.17,0H1M-0.17,-0.17H0.17V0.17H-0.17Z','M-1,0H1M-0.17,-0.17H0.17V0.17H-0.17Z','M-1,0H-0.11M0.11,0H1M0,-0.2L0.2,0.16L-0.2,0.16Z','M-1,0H1M0,-0.2L0.2,0.16L-0.2,0.16Z'][datum.index]"}, "fill": {"signal": "['transparent','white','#1e8c1e','white','#800080','white','#000000'][datum.index]"}, "strokeWidth": {"signal": "datum.index === 0 ? 3 : 1.2"}}}, "labels": {"update": {"x": {"value": 36}}}}}},
    "strokeWidth": {"condition": {"test": "datum.country === 'EA12'", "value": 3}, "value": 1.5}
   }},
  {"transform": [{"filter": "datum.country !== 'EA12'"}],
   "mark": {"type": "point", "opacity": 1, "strokeWidth": 1},
   "encoding": {
    "y": {"field": "value", "type": "quantitative", "scale": {"type": "log", "domain": [25, 140], "nice": false}, "axis": {"orient": "right", "values": [25,40,60,80,100,120,140], "grid": false, "tickSize": 4, "labelPadding": 2, "title": null}},
    "shape": {"field": "country", "type": "nominal", "scale": {"domain": ["Csehország","Magyarország","Lengyelország","Szlovákia","Szlovénia","Ciprus"], "range": ["circle","triangle-up","square","square","triangle-up","triangle-up"]}, "legend": null},
    "stroke": {"field": "country", "type": "nominal", "scale": {"domain": ["Csehország","Magyarország","Lengyelország","Szlovákia","Szlovénia","Ciprus"], "range": ["#2b2bc4","#1e8c1e","#e0332b","#800080","#f0a23c","#000000"]}, "legend": null},
    "fill": {"field": "country", "type": "nominal", "scale": {"domain": ["Csehország","Magyarország","Lengyelország","Szlovákia","Szlovénia","Ciprus"], "range": ["white","#1e8c1e","white","#800080","white","#000000"]}, "legend": null},
    "size": {"field": "country", "type": "ordinal", "scale": {"domain": ["Csehország","Magyarország","Lengyelország","Szlovákia","Szlovénia","Ciprus"], "range": [16,10,26,28,30,36]}, "legend": null}
   }}
 ],
 "resolve": {"axis": {"y": "independent"}}},

{"width": 237, "height": 275, "data": {"name": "cpi"},
 "transform": [{"filter": {"field": "country", "oneOf": ["EA12","Málta","Észtország","Lettország","Litvánia","Románia","Bulgária"]}}],
 "encoding": {"x": {"field": "year", "type": "quantitative", "scale": {"domain": [1995, 2008], "nice": false, "zero": false}, "axis": {"values": [1996,1998,2000,2002,2004,2006,2008], "format": "d", "grid": true, "ticks": false, "labelPadding": 5, "title": null}}},
 "layer": [
  {"mark": {"type": "line", "strokeWidth": 1.5},
   "encoding": {
    "y": {"field": "value", "type": "quantitative", "scale": {"type": "log", "domain": [25, 140], "nice": false}, "axis": {"orient": "left", "values": [25,40,60,80,100,120,140], "grid": true, "tickSize": 4, "labelPadding": 2, "title": null}},
    "color": {"field": "country", "type": "nominal", "scale": {"domain": ["EA12","Málta","Észtország","Lettország","Litvánia","Románia","Bulgária"], "range": ["#0c0ccc","#2b2bc4","#1e8c1e","#e0332b","#800080","#f0a23c","#000000"]},
      "legend": {"orient": "none", "legendX": 24, "legendY": 312, "title": null, "encode": {"symbols": {"update": {"x": {"value": 17.5}, "shape": {"signal": "['M-1,0H1','M-1,0H-0.14M0.14,0H1M0.14,0A0.14,0.14,0,1,1,-0.14,0A0.14,0.14,0,1,1,0.14,0Z','M-1,0H1M0,-0.13L0.13,0.1L-0.13,0.1Z','M-1,0H-0.17M0.17,0H1M-0.17,-0.17H0.17V0.17H-0.17Z','M-1,0H1M-0.17,-0.17H0.17V0.17H-0.17Z','M-1,0H-0.11M0.11,0H1M0,-0.2L0.2,0.16L-0.2,0.16Z','M-1,0H1M0,-0.2L0.2,0.16L-0.2,0.16Z'][datum.index]"}, "fill": {"signal": "['transparent','white','#1e8c1e','white','#800080','white','#000000'][datum.index]"}, "strokeWidth": {"signal": "datum.index === 0 ? 3 : 1.2"}}}, "labels": {"update": {"x": {"value": 36}}}}}},
    "strokeWidth": {"condition": {"test": "datum.country === 'EA12'", "value": 3}, "value": 1.5}
   }},
  {"transform": [{"filter": "datum.country !== 'EA12'"}],
   "mark": {"type": "point", "opacity": 1, "strokeWidth": 1},
   "encoding": {
    "y": {"field": "value", "type": "quantitative", "scale": {"type": "log", "domain": [25, 140], "nice": false}, "axis": {"orient": "right", "values": [25,40,60,80,100,120,140], "grid": false, "tickSize": 4, "labelPadding": 2, "title": null}},
    "shape": {"field": "country", "type": "nominal", "scale": {"domain": ["Málta","Észtország","Lettország","Litvánia","Románia","Bulgária"], "range": ["circle","triangle-up","square","square","triangle-up","triangle-up"]}, "legend": null},
    "stroke": {"field": "country", "type": "nominal", "scale": {"domain": ["Málta","Észtország","Lettország","Litvánia","Románia","Bulgária"], "range": ["#2b2bc4","#1e8c1e","#e0332b","#800080","#f0a23c","#000000"]}, "legend": null},
    "fill": {"field": "country", "type": "nominal", "scale": {"domain": ["Málta","Észtország","Lettország","Litvánia","Románia","Bulgária"], "range": ["white","#1e8c1e","white","#800080","white","#000000"]}, "legend": null},
    "size": {"field": "country", "type": "ordinal", "scale": {"domain": ["Málta","Észtország","Lettország","Litvánia","Románia","Bulgária"], "range": [16,10,26,28,30,36]}, "legend": null}
   }}
 ],
 "resolve": {"axis": {"y": "independent"}}},

{"width": 237, "height": 275, "data": {"name": "cpi"},
 "transform": [{"filter": {"field": "country", "oneOf": ["EA12","Ausztria","Finnország","Írország","Spanyolország","Portugália","Görögország"]}}],
 "encoding": {"x": {"field": "year", "type": "quantitative", "scale": {"domain": [1995, 2008], "nice": false, "zero": false}, "axis": {"values": [1996,1998,2000,2002,2004,2006,2008], "format": "d", "grid": true, "ticks": false, "labelPadding": 5, "title": null}}},
 "layer": [
  {"mark": {"type": "line", "strokeWidth": 1.5},
   "encoding": {
    "y": {"field": "value", "type": "quantitative", "scale": {"type": "log", "domain": [25, 140], "nice": false}, "axis": {"orient": "left", "values": [25,40,60,80,100,120,140], "grid": true, "tickSize": 4, "labelPadding": 2, "title": null}},
    "color": {"field": "country", "type": "nominal", "scale": {"domain": ["EA12","Ausztria","Finnország","Írország","Spanyolország","Portugália","Görögország"], "range": ["#0c0ccc","#2b2bc4","#1e8c1e","#e0332b","#800080","#f0a23c","#000000"]},
      "legend": {"orient": "none", "legendX": 19, "legendY": 312, "title": null, "encode": {"symbols": {"update": {"x": {"value": 17.5}, "shape": {"signal": "['M-1,0H1','M-1,0H-0.14M0.14,0H1M0.14,0A0.14,0.14,0,1,1,-0.14,0A0.14,0.14,0,1,1,0.14,0Z','M-1,0H1M0,-0.13L0.13,0.1L-0.13,0.1Z','M-1,0H-0.17M0.17,0H1M-0.17,-0.17H0.17V0.17H-0.17Z','M-1,0H1M-0.17,-0.17H0.17V0.17H-0.17Z','M-1,0H-0.11M0.11,0H1M0,-0.2L0.2,0.16L-0.2,0.16Z','M-1,0H1M0,-0.2L0.2,0.16L-0.2,0.16Z'][datum.index]"}, "fill": {"signal": "['transparent','white','#1e8c1e','white','#800080','white','#000000'][datum.index]"}, "strokeWidth": {"signal": "datum.index === 0 ? 3 : 1.2"}}}, "labels": {"update": {"x": {"value": 36}}}}}},
    "strokeWidth": {"condition": {"test": "datum.country === 'EA12'", "value": 3}, "value": 1.5}
   }},
  {"transform": [{"filter": "datum.country !== 'EA12'"}],
   "mark": {"type": "point", "opacity": 1, "strokeWidth": 1},
   "encoding": {
    "y": {"field": "value", "type": "quantitative", "scale": {"type": "log", "domain": [25, 140], "nice": false}, "axis": {"orient": "right", "values": [25,40,60,80,100,120,140], "grid": false, "tickSize": 4, "labelPadding": 2, "title": null}},
    "shape": {"field": "country", "type": "nominal", "scale": {"domain": ["Ausztria","Finnország","Írország","Spanyolország","Portugália","Görögország"], "range": ["circle","triangle-up","square","square","triangle-up","triangle-up"]}, "legend": null},
    "stroke": {"field": "country", "type": "nominal", "scale": {"domain": ["Ausztria","Finnország","Írország","Spanyolország","Portugália","Görögország"], "range": ["#2b2bc4","#1e8c1e","#e0332b","#800080","#f0a23c","#000000"]}, "legend": null},
    "fill": {"field": "country", "type": "nominal", "scale": {"domain": ["Ausztria","Finnország","Írország","Spanyolország","Portugália","Görögország"], "range": ["white","#1e8c1e","white","#800080","white","#000000"]}, "legend": null},
    "size": {"field": "country", "type": "ordinal", "scale": {"domain": ["Ausztria","Finnország","Írország","Spanyolország","Portugália","Görögország"], "range": [16,10,26,28,30,36]}, "legend": null}
   }}
 ],
 "resolve": {"axis": {"y": "independent"}}},

{"width": 237, "height": 309,
 "layer": [
  {"data": {"values": [{"label": "Megjegyzés:"}]}, "mark": {"type": "text", "x": -18, "y": 140, "align": "left", "baseline": "alphabetic", "font": "Liberation Serif", "fontStyle": "italic", "fontSize": 25, "color": "black"}, "encoding": {"text": {"field": "label"}}},
  {"data": {"values": [{"label": "a bemutatott értékek a magánháztartások végső fogyasztásának"}]}, "mark": {"type": "text", "x": 116, "y": 140, "align": "left", "baseline": "alphabetic", "font": "Liberation Serif", "fontSize": 25, "color": "black"}, "encoding": {"text": {"field": "label"}}},
  {"data": {"values": [{"label": "összehasonlító árszintjét mutatják, és magukban foglalják a közvetett adókat is (EA–"}]}, "mark": {"type": "text", "x": -55, "y": 179, "align": "left", "baseline": "alphabetic", "font": "Liberation Serif", "fontSize": 25, "color": "black"}, "encoding": {"text": {"field": "label"}}},
  {"data": {"values": [{"label": "12 = 100), a függőleges tengely beosztása logaritmikus."}]}, "mark": {"type": "text", "x": -55, "y": 218, "align": "left", "baseline": "alphabetic", "font": "Liberation Serif", "fontSize": 25, "color": "black"}, "encoding": {"text": {"field": "label"}}},
  {"data": {"values": [{"label": "Forrás:"}]}, "mark": {"type": "text", "x": -18, "y": 265, "align": "left", "baseline": "alphabetic", "font": "Liberation Serif", "fontStyle": "italic", "fontSize": 25, "color": "black"}, "encoding": {"text": {"field": "label"}}},
  {"data": {"values": [{"label": "1995–2006: Eurostat, a 2007. évi értékeket mi számítottuk a hazai és EA–12-beli"}]}, "mark": {"type": "text", "x": 66, "y": 265, "align": "left", "baseline": "alphabetic", "font": "Liberation Serif", "fontSize": 25, "color": "black"}, "encoding": {"text": {"field": "label"}}},
  {"data": {"values": [{"label": "inflációt, valamint az euró árfolyamváltozásait felhasználva."}]}, "mark": {"type": "text", "x": -55, "y": 303, "align": "left", "baseline": "alphabetic", "font": "Liberation Serif", "fontSize": 25, "color": "black"}, "encoding": {"text": {"field": "label"}}}
 ]},
{"width": 237, "height": 309, "data": {"values": []}, "mark": "text"},
{"width": 237, "height": 309, "data": {"values": []}, "mark": "text"}
]
}
